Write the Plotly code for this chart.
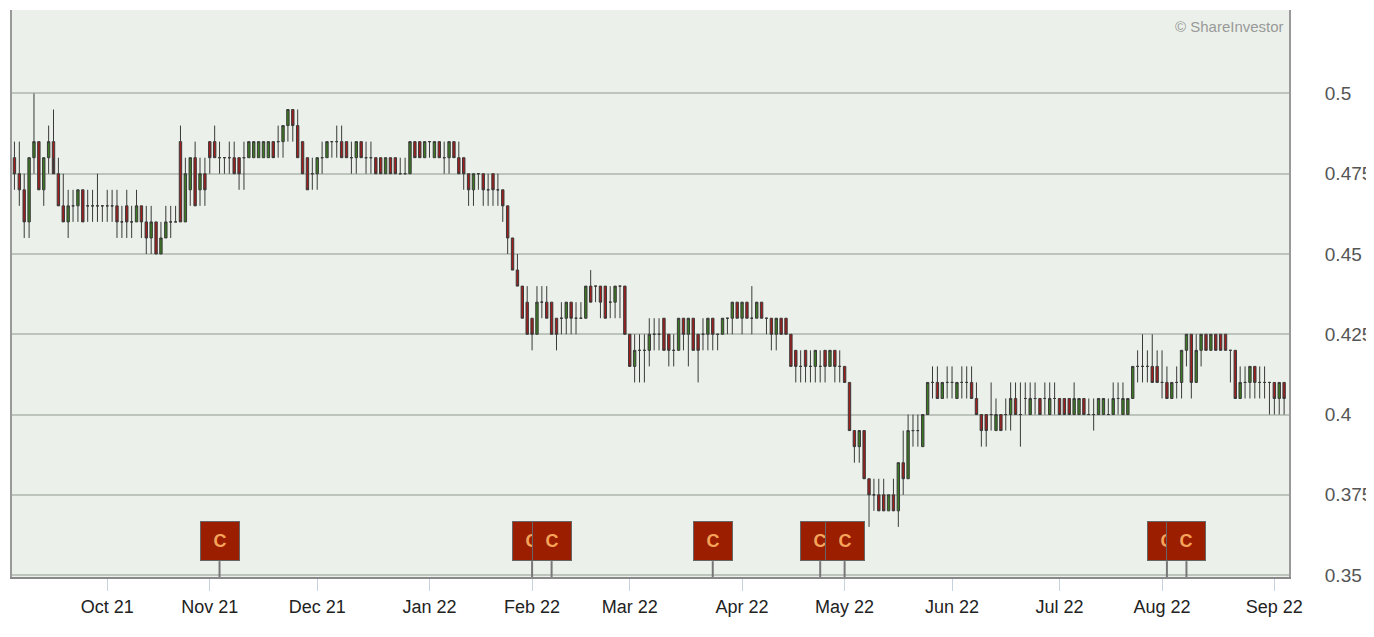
import pandas as pd
import plotly.graph_objects as go

# daily prices in thousandths of a dollar, Sep 6 2021 .. Sep 5 2022 (one row per month)
open_px = [
    480,475,470,460,480,485,470,480,485,475,465,460,465,465,470,465,465,465,465,
    465,465,465,460,465,460,460,465,460,455,460,450,455,460,460,485,460,470,480,470,475,
    485,485,480,480,480,480,480,480,480,480,480,480,480,485,485,485,490,495,490,485,480,475,
    475,480,480,485,485,485,485,480,480,485,480,480,480,480,475,480,480,475,475,475,485,485,480,
    485,480,485,480,480,485,480,480,475,470,475,475,470,475,470,470,465,455,445,440,435,
    430,425,435,435,435,430,430,430,435,430,430,430,440,440,440,440,435,435,440,440,
    425,415,420,420,420,425,425,430,425,420,420,430,425,430,425,425,425,430,425,425,430,430,435,
    430,435,430,430,435,430,430,425,430,430,425,420,415,420,415,415,415,420,415,420,415,
    415,410,395,390,395,380,375,375,375,370,375,370,385,380,395,395,390,400,410,410,405,410,
    410,405,410,410,410,405,400,400,400,395,400,400,400,405,400,405,400,405,405,405,400,405,
    405,405,405,400,400,405,400,400,400,400,400,400,405,400,400,405,415,415,415,415,415,
    410,410,405,410,410,420,425,410,420,425,420,425,425,425,420,420,405,410,410,415,410,410,410,
    410,405,410,
]
high_px = [
    485,485,475,480,500,485,480,490,495,480,475,470,470,470,470,470,470,475,465,
    470,470,470,465,470,465,470,465,465,465,460,460,465,465,465,490,480,480,485,480,480,
    485,490,485,480,485,485,480,485,485,485,485,485,485,485,490,490,495,495,495,485,480,480,
    480,485,485,485,490,490,485,485,485,485,485,485,480,480,480,480,480,480,480,485,485,485,485,
    485,485,485,485,485,485,485,480,475,475,475,475,475,475,475,470,465,455,450,440,440,
    430,440,440,440,435,430,435,435,435,435,435,440,445,440,440,440,440,440,440,440,
    425,425,425,425,430,430,430,430,425,425,430,430,430,430,425,430,430,430,425,430,430,435,435,
    435,435,440,435,435,430,430,430,430,430,425,420,420,420,420,420,420,420,420,420,420,
    415,410,395,395,395,380,380,380,380,375,380,385,395,400,400,400,400,410,415,415,410,415,
    415,410,415,415,415,410,400,400,410,405,400,405,410,410,410,410,410,410,405,410,410,410,
    405,405,405,410,405,405,405,405,405,405,405,410,410,410,405,415,420,425,420,425,420,
    420,415,410,415,420,425,425,425,425,425,425,425,425,425,420,420,415,415,415,415,415,415,410,
    410,410,410,
]
low_px = [
    470,465,455,455,475,470,465,475,480,465,460,455,460,460,460,460,460,460,460,
    460,460,455,455,455,455,460,455,450,450,450,450,455,455,460,460,460,465,465,465,465,
    475,480,475,475,475,475,470,470,480,480,480,480,480,480,480,480,485,485,480,475,470,470,
    470,475,480,480,480,480,480,475,475,480,475,475,475,475,475,475,475,475,475,475,480,480,480,
    480,480,480,475,475,480,475,470,465,465,470,465,465,465,465,460,450,445,440,430,425,
    420,425,430,430,425,420,425,425,425,425,430,430,435,435,430,430,430,430,430,425,
    415,410,410,410,415,420,420,420,415,415,420,420,415,420,410,420,420,420,420,425,425,425,430,
    425,430,425,430,430,425,420,420,425,425,415,410,410,410,410,410,410,410,415,410,410,
    410,395,385,385,380,365,370,370,370,370,370,365,375,380,390,390,390,400,405,405,405,405,
    405,405,405,405,405,400,390,390,395,395,395,395,395,400,390,400,400,400,400,400,400,400,
    400,400,400,400,400,400,400,395,400,400,400,400,400,400,400,405,410,410,410,410,410,
    405,405,405,405,405,415,405,410,415,420,420,420,420,420,410,405,405,405,405,405,405,405,400,
    400,400,400,
]
close_px = [
    475,470,460,480,485,470,480,485,475,465,460,465,465,470,460,465,465,465,465,
    465,465,460,460,460,460,465,460,455,460,450,455,460,460,460,460,475,480,465,475,470,
    480,480,480,480,480,475,475,480,485,485,485,485,485,480,485,490,495,490,480,475,470,475,
    480,480,485,485,485,480,480,480,485,480,480,480,475,475,480,475,475,475,475,485,480,480,485,
    485,485,480,480,485,480,475,475,470,475,475,470,470,470,470,465,455,445,440,430,425,
    425,435,435,430,425,425,430,435,430,430,430,440,435,440,435,430,435,440,440,425,
    415,420,420,420,425,425,425,420,420,420,430,425,430,420,420,425,430,425,425,430,430,435,430,
    435,430,430,435,430,430,425,430,425,425,415,415,415,415,415,420,415,415,420,415,415,
    410,395,390,395,380,375,375,370,370,375,370,385,380,395,395,395,400,410,410,405,410,410,
    410,410,410,410,405,400,395,395,400,400,395,400,405,400,400,405,405,405,400,405,405,405,
    400,400,400,405,405,400,400,400,405,405,400,405,405,405,405,415,415,415,415,410,410,
    410,405,410,410,420,425,410,420,425,420,425,420,420,420,420,405,410,410,415,410,410,410,410,
    405,410,405,
]

event_dates = ["2021-11-03", "2022-02-01", "2022-02-07", "2022-03-24",
               "2022-04-25", "2022-05-02", "2022-08-02", "2022-08-08"]
month_labels = ["Oct 21", "Nov 21", "Dec 21", "Jan 22", "Feb 22", "Mar 22",
                "Apr 22", "May 22", "Jun 22", "Jul 22", "Aug 22", "Sep 22"]
y_ticks = [0.35, 0.375, 0.4, 0.425, 0.45, 0.475, 0.5]

dates = pd.bdate_range("2021-09-06", "2022-09-05")
assert len(dates) == len(open_px) == len(high_px) == len(low_px) == len(close_px)

# month ticks sit on the first trading weekday of each month
month_ticks = pd.date_range("2021-10-01", "2022-09-01", freq="BMS")

k = 1000.0
fig = go.Figure()
fig.add_trace(go.Candlestick(
    x=dates,
    open=[v / k for v in open_px], high=[v / k for v in high_px],
    low=[v / k for v in low_px], close=[v / k for v in close_px],
    increasing=dict(fillcolor="#3c7a22", line=dict(color="#3a3a3a", width=1)),
    decreasing=dict(fillcolor="#a31d1d", line=dict(color="#3a3a3a", width=1)),
    whiskerwidth=0, showlegend=False, hoverinfo="skip",
))

# corporate action markers along the bottom
for d in event_dates:
    fig.add_shape(type="line", x0=d, x1=d, xref="x", yref="paper", y0=0, y1=0.028,
                  line=dict(color="#777", width=2))
    fig.add_annotation(x=d, y=0.028, xref="x", yref="paper", yanchor="bottom",
                       text="<b>C</b>", showarrow=False, width=36, height=36,
                       bgcolor="#9b1e00", bordercolor="#666", borderwidth=1,
                       font=dict(color="#f6a45a", size=18, family="Arial"))

fig.add_annotation(x=0.998, y=0.99, xref="paper", yref="paper", xanchor="right",
                   yanchor="top", text="© ShareInvestor", showarrow=False,
                   font=dict(color="#999", size=15, family="Arial"))

fig.update_layout(
    width=1374, height=637,
    margin=dict(l=2, r=93, t=2, b=68),
    paper_bgcolor="white", plot_bgcolor="#ebf1ea",
    font=dict(family="Arial", color="#222"),
    xaxis=dict(
        rangeslider=dict(visible=False),
        rangebreaks=[dict(bounds=["sat", "mon"])],
        range=[pd.Timestamp("2021-09-03 12:00"), pd.Timestamp("2022-09-06")],
        tickvals=month_ticks, ticktext=month_labels,
        ticks="outside", ticklen=12, tickcolor="#c5d2e0", tickfont=dict(size=18),
        showgrid=False, showline=True, linecolor="#888", linewidth=2, mirror=False,
    ),
    yaxis=dict(
        side="right", range=[0.3494, 0.526], tickvals=y_ticks,
        ticktext=[str(v) for v in y_ticks], tickfont=dict(size=19, color="#555"),
        ticklabelstandoff=30,
        gridcolor="#bcc4bc", gridwidth=1.5, zeroline=False,
        showline=True, linecolor="#999", linewidth=2, mirror=True,
    ),
)

fig.write_html("out.html")
